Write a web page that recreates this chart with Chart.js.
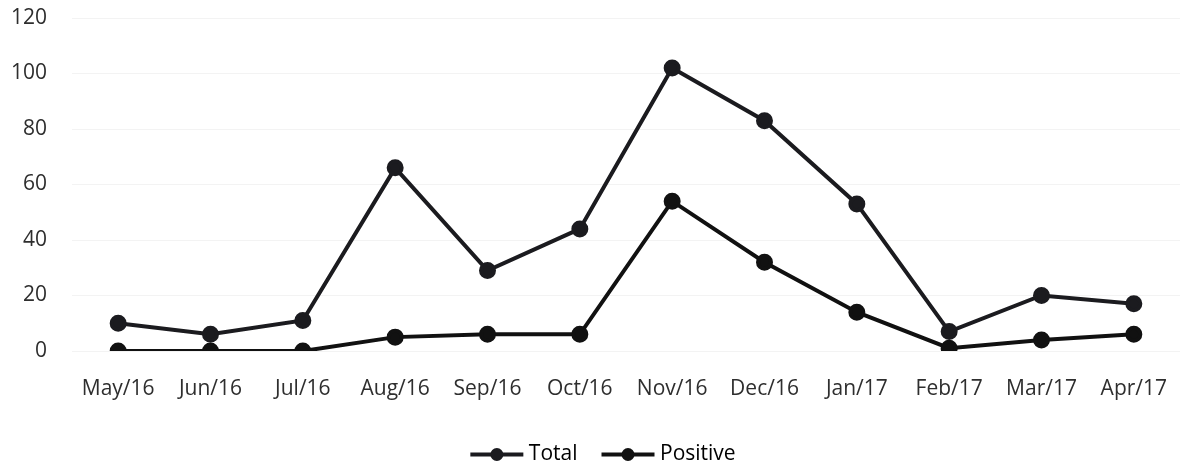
<!DOCTYPE html>
<html>
<head>
<meta charset="utf-8">
<script src="https://cdn.jsdelivr.net/npm/chart.js@4.4.0/dist/chart.umd.min.js"></script>
<style>
html,body{margin:0;padding:0;background:#fff;}
#wrap{width:1180px;height:468px;position:relative;}
</style>
</head>
<body>
<div id="wrap"><canvas id="c" width="1180" height="468"></canvas></div>
<script>
const categories = ["May/16","Jun/16","Jul/16","Aug/16","Sep/16","Oct/16","Nov/16","Dec/16","Jan/17","Feb/17","Mar/17","Apr/17"];
const totalValues = [10, 6, 11, 66, 29, 44, 102, 83, 53, 7, 20, 17];
const positiveValues = [0, 0, 0, 5, 6, 6, 54, 32, 14, 1, 4, 6];
const yTicks = [0, 20, 40, 60, 80, 100, 120];

const FONT = "'Open Sans', 'Liberation Sans', sans-serif";
Chart.defaults.font.family = FONT;
const BOXW = 48, MARKW = 53;

new Chart(document.getElementById('c'), {
  type: 'line',
  data: {
    labels: categories,
    datasets: [
      {label: 'Total', data: totalValues, borderColor: '#1b1b1f', backgroundColor: '#1b1b1f',
       borderWidth: 4, pointRadius: 6.5, pointHoverRadius: 6.5, tension: 0},
      {label: 'Positive', data: positiveValues, borderColor: '#111', backgroundColor: '#111',
       borderWidth: 4, pointRadius: 6.5, pointHoverRadius: 6.5, tension: 0}
    ]
  },
  options: {
    responsive: false,
    animation: false,
    layout: {autoPadding: false, padding: {left: 0, right: 0, top: 18, bottom: -7}},
    plugins: {
      legend: {
        position: 'bottom',
        labels: {
          color: '#222', font: {size: 21, family: FONT},
          boxWidth: BOXW, boxHeight: 2, padding: 24,
          generateLabels: (chart) => chart.data.datasets.map((ds, i) => ({
            text: ds.label, fillStyle: 'rgba(0,0,0,0)', strokeStyle: 'rgba(0,0,0,0)',
            lineWidth: 0, hidden: false, datasetIndex: i
          }))
        }
      },
      tooltip: {enabled: false}
    },
    scales: {
      x: {
        offset: true,
        grid: {display: false, drawTicks: false},
        border: {display: false},
        afterFit: (axis) => { axis.height = 69; axis.paddingLeft = 0; axis.paddingRight = 0; },
        ticks: {color: '#2e2e2e', font: {size: 21}, padding: 25, maxRotation: 0, autoSkip: false}
      },
      y: {
        min: 0, max: 120,
        afterBuildTicks: (axis) => { axis.ticks = yTicks.map(v => ({value: v})); },
        afterFit: (axis) => { axis.width = 72; axis.paddingTop = 0; axis.paddingBottom = 0; },
        grid: {color: '#f3f3f3', drawTicks: false},
        border: {display: false},
        ticks: {color: '#2e2e2e', font: {size: 21}, padding: 25}
      }
    }
  },
  plugins: [{
    id: 'legendShiftAndMarkers',
    afterLayout(chart) {
      const lg = chart.legend;
      if (lg) { lg.left += 13; lg.right += 13; }
    },
    afterDraw(chart) {
      const lg = chart.legend;
      if (!lg || !lg.legendHitBoxes) return;
      const ctx = chart.ctx;
      lg.legendHitBoxes.forEach((hb, i) => {
        const ds = chart.data.datasets[i];
        const cx = hb.left + MARKW / 2;
        const cy = hb.top + hb.height / 2;
        ctx.save();
        ctx.strokeStyle = ds.borderColor; ctx.lineWidth = 4;
        ctx.beginPath(); ctx.moveTo(hb.left, cy); ctx.lineTo(hb.left + MARKW, cy); ctx.stroke();
        ctx.fillStyle = ds.borderColor;
        ctx.beginPath(); ctx.arc(cx, cy, 6.5, 0, Math.PI * 2); ctx.fill();
        ctx.restore();
      });
    }
  }]
});
</script>
</body>
</html>
